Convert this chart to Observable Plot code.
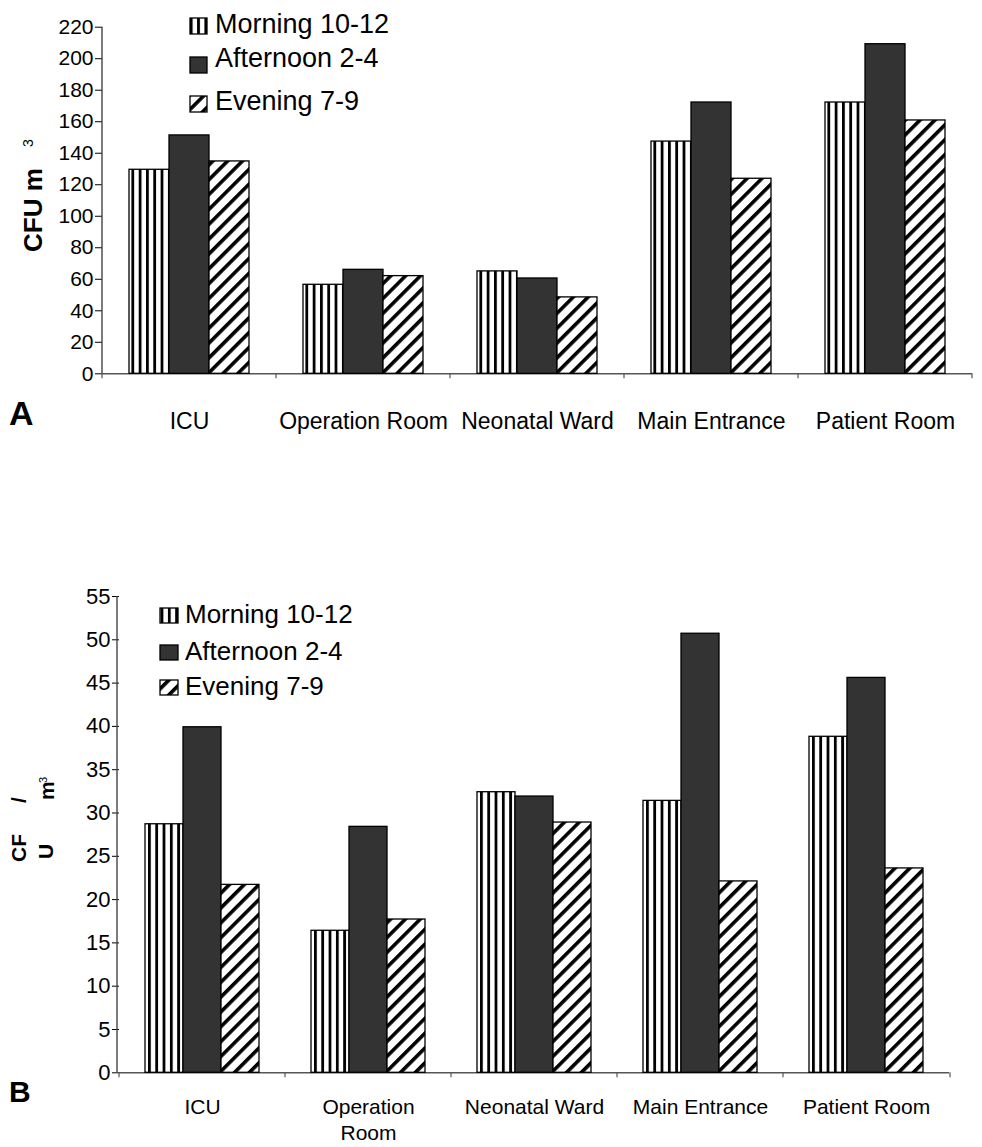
<!DOCTYPE html>
<html><head><meta charset="utf-8">
<script src="https://cdn.jsdelivr.net/npm/d3@7"></script>
<script src="https://cdn.jsdelivr.net/npm/@observablehq/plot@0.6"></script>
<style>
body{margin:0;background:#fff;}
#wrap{position:relative;width:982px;height:1147px;overflow:hidden;background:#fff;font-family:"Liberation Sans",Arial,sans-serif;}
#wrap > svg{position:absolute;left:0;}
</style></head><body>
<div id="wrap">
<svg width="0" height="0" style="position:absolute;left:0;top:0">
  <defs>
    <pattern id="pMorning" patternUnits="userSpaceOnUse" width="7.3" height="10">
      <rect width="7.3" height="10" fill="#fff"/><rect x="0" width="2.8" height="10" fill="#000"/>
    </pattern>
    <pattern id="pEvening" patternUnits="userSpaceOnUse" width="10.5" height="10.5" patternTransform="rotate(45)">
      <rect width="10.5" height="10.5" fill="#fff"/><rect width="3.6" height="10.5" fill="#000"/>
    </pattern>
  </defs>
</svg>
</div>
<script>
// ---- data ----
const categories = ["ICU", "Operation Room", "Neonatal Ward", "Main Entrance", "Patient Room"];
const periods = ["Morning 10-12", "Afternoon 2-4", "Evening 7-9"];
const fills = ["url(#pMorning)", "#333333", "url(#pEvening)"];

// Panel A (CFU m3)
const morningA   = [129.5, 56.5, 65, 147.4, 172.2];
const afternoonA = [151.3, 66, 60.5, 172.2, 209.2];
const eveningA   = [134.8, 62, 48.5, 123.8, 160.8];
const yTicksA = [0, 20, 40, 60, 80, 100, 120, 140, 160, 180, 200, 220];

// Panel B (CFU/m3)
const morningB   = [28.7, 16.4, 32.4, 31.4, 38.8];
const afternoonB = [39.9, 28.4, 31.9, 50.7, 45.6];
const eveningB   = [21.7, 17.7, 28.9, 22.1, 23.6];
const yTicksB = [0, 5, 10, 15, 20, 25, 30, 35, 40, 45, 50, 55];

function rows(m, a, e) {
  const series = [m, a, e];
  return categories.flatMap((c, i) => periods.map((p, j) => ({cat: c, period: p, value: series[j][i]})));
}

const wrap = document.getElementById("wrap");

function makeChart(o) {
  const chart = Plot.plot({
    width: 982, height: o.height,
    marginLeft: o.ml, marginRight: o.mr, marginTop: o.mt, marginBottom: o.mb,
    style: {fontFamily: '"Liberation Sans", Arial, sans-serif', color: "#000", background: "transparent", overflow: "visible"},
    fx: {domain: categories, padding: 0, label: null},
    x: {domain: periods, paddingInner: 0, paddingOuter: 0.643, axis: null},
    y: {domain: [0, o.yMax], label: null},
    color: {type: "ordinal", domain: periods, range: fills},
    marks: [
      Plot.ruleY([0], {stroke: "#555", strokeWidth: 1.4}),
      Plot.axisY({ticks: o.yTicks, tickSize: 7, tickPadding: 2, fontSize: o.tickFont, label: null}),
      Plot.axisFx({anchor: "bottom", tickSize: 0, tickPadding: o.catPad, fontSize: o.catFont, label: null,
                   tickFormat: o.catFormat, lineHeight: o.lineHeight}),
      Plot.barY(o.data, {fx: "cat", x: "period", y: "value", fill: "period", stroke: "#000", strokeWidth: 1.3, inset: 0})
    ]
  });
  chart.style.position = "absolute";
  chart.style.top = o.top + "px";
  chart.style.left = "0px";
  wrap.appendChild(chart);
  // axis line and category boundary ticks, from the chart's own scales
  const fx = chart.scale("fx"), y = chart.scale("y");
  const s = d3.select(chart);
  const x0 = o.ml, x1 = 982 - o.mr;
  s.append("line").attr("x1", x0).attr("x2", x0).attr("y1", y.apply(0)).attr("y2", y.apply(o.yMax))
    .attr("stroke", "#444").attr("stroke-width", 1.4);
  const bx = categories.map(c => fx.apply(c)).concat([x1]);
  s.append("g").selectAll("line").data(bx).join("line")
    .attr("x1", d => d).attr("x2", d => d)
    .attr("y1", y.apply(0)).attr("y2", y.apply(0) + 5)
    .attr("stroke", "#555").attr("stroke-width", 1.2);
  return chart;
}

makeChart({data: rows(morningA, afternoonA, eveningA), yMax: 220, yTicks: yTicksA,
  height: 440, top: 0, ml: 102, mr: 10, mt: 26.7, mb: 66.7,
  tickFont: 21, catFont: 23, catPad: 36, lineHeight: 1.2, catFormat: d => d});

makeChart({data: rows(morningB, afternoonB, eveningB), yMax: 55, yTicks: yTicksB,
  height: 587, top: 560, ml: 117, mr: 32, mt: 36, mb: 74.7,
  tickFont: 22, catFont: 21, catPad: 23, lineHeight: 1.22,
  catFormat: d => d === "Operation Room" ? "Operation\nRoom" : d});

// ---- overlay: legends, axis titles, panel letters ----
const ov = d3.select(wrap).append("svg")
  .attr("width", 982).attr("height", 1147)
  .style("position", "absolute").style("top", "0px").style("left", "0px")
  .style("font-family", '"Liberation Sans", Arial, sans-serif');

function legend(x, baselines, swTop, swH, font, swX, swW) {
  periods.forEach((p, i) => {
    ov.append("rect").attr("x", swX).attr("y", swTop[i]).attr("width", swW).attr("height", swH)
      .attr("fill", fills[i]).attr("stroke", "#000").attr("stroke-width", 1.3);
    ov.append("text").attr("x", x).attr("y", baselines[i]).attr("font-size", font).attr("fill", "#000").text(p);
  });
}
legend(215, [33, 67, 110], [18, 57, 96], 16, 27, 190, 17);
legend(185, [623, 660, 695], [608, 645, 680], 15, 26, 160, 18);

// Panel letters
ov.append("text").attr("x", 9).attr("y", 425).attr("font-size", 34).attr("font-weight", "bold").text("A");
ov.append("text").attr("x", 9).attr("y", 1102).attr("font-size", 30).attr("font-weight", "bold").text("B");

// Y title A: "CFU m 3"
ov.append("text").attr("transform", "translate(42,252) rotate(-90)")
  .attr("font-size", 26).attr("font-weight", "bold").text("CFU m");
ov.append("text").attr("transform", "translate(33,147) rotate(-90)")
  .attr("font-size", 14).text("3");

// Y title B: broken "CF / U m3"
ov.append("text").attr("transform", "translate(26,862) rotate(-90)")
  .attr("font-size", 21).attr("font-weight", "bold").text("CF");
ov.append("text").attr("transform", "translate(26,803) rotate(-90)")
  .attr("font-size", 21).attr("font-weight", "bold").text("/");
ov.append("text").attr("transform", "translate(53,859) rotate(-90)")
  .attr("font-size", 21).attr("font-weight", "bold").text("U");
ov.append("text").attr("transform", "translate(54,800) rotate(-90)")
  .attr("font-size", 21).attr("font-weight", "bold").text("m");
ov.append("text").attr("transform", "translate(47,783) rotate(-90)")
  .attr("font-size", 11).text("3");
</script>
</body></html>
